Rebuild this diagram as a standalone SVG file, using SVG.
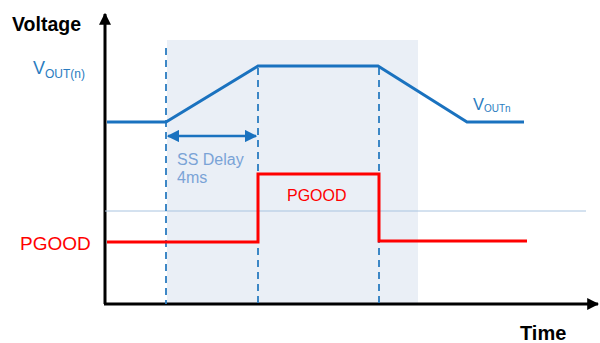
<svg xmlns="http://www.w3.org/2000/svg" width="600" height="343" viewBox="0 0 600 343">
<defs>
<style>
.ax{stroke:#000;stroke-width:3;fill:none}
.dash{stroke:#2a7cc0;stroke-width:1.8;stroke-dasharray:7,5;fill:none}
.vout{stroke:#1a72bf;stroke-width:3;fill:none;stroke-linejoin:miter}
.pg{stroke:#ff0000;stroke-width:3;fill:none}
.lbl{font-family:"Liberation Sans",Arial,sans-serif}
</style>
<marker id="ah" viewBox="0 0 10 10" refX="9" refY="5" markerWidth="4" markerHeight="4" orient="auto-start-reverse" markerUnits="strokeWidth">
<path d="M0,0 L10,5 L0,10 z" fill="#000"/>
</marker>
<marker id="bh" viewBox="0 0 10 10" refX="9" refY="5" markerWidth="5" markerHeight="5" orient="auto-start-reverse" markerUnits="strokeWidth">
<path d="M0,0 L10,5 L0,10 z" fill="#1a72bf"/>
</marker>
</defs>
<rect x="167" y="40" width="251" height="264" fill="#eaeff6"/>
<g id="axes">
<path class="ax" d="M105,304 V14" marker-end="url(#ah)"/>
<path class="ax" d="M104,304 H598" marker-end="url(#ah)"/>
</g>
<g id="connectors">
<line x1="105" y1="211" x2="586" y2="211" stroke="#a9c4e0" stroke-width="1"/>
<line class="dash" x1="166" y1="48" x2="166" y2="304"/>
<line class="dash" x1="258" y1="68" x2="258" y2="304"/>
<line class="dash" x1="379" y1="68" x2="379" y2="304"/>
<path class="vout" d="M107,122 H166 L258,66 H378 L467,122 H524"/>
<path d="M168,136 H256" stroke="#1a72bf" stroke-width="2.5" fill="none" marker-start="url(#bh)" marker-end="url(#bh)"/>
<path class="pg" d="M107,242 H258 V174 H379 V241 H527"/>
</g>
<g id="labels" class="lbl">
<text x="12" y="31" font-size="19.5" font-weight="bold" fill="#000">Voltage</text>
<text x="33" y="74" font-size="18" fill="#2a7cc0">V<tspan font-size="12" dy="3.5">OUT(n)</tspan></text>
<text x="473" y="110" font-size="16.5" fill="#2a7cc0">V<tspan font-size="10" dy="2">OUTn</tspan></text>
<text x="177" y="165" font-size="16" fill="#7aa3d6">SS Delay</text>
<text x="177" y="183" font-size="16" fill="#7aa3d6">4ms</text>
<text x="287" y="201" font-size="16" fill="#ff0000">PGOOD</text>
<text x="20" y="250" font-size="19" fill="#ff0000">PGOOD</text>
<text x="520" y="340" font-size="20" font-weight="bold" fill="#000">Time</text>
</g>
</svg>
